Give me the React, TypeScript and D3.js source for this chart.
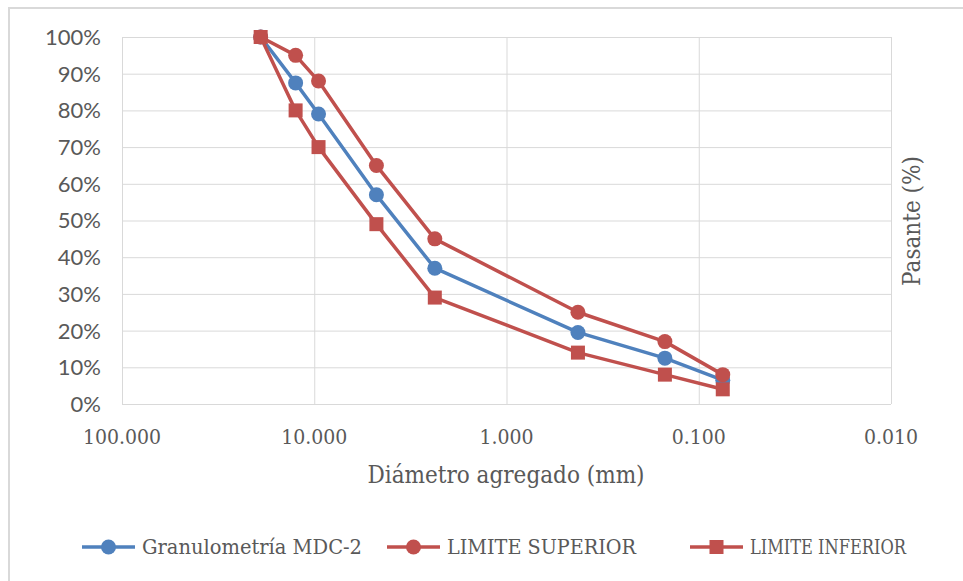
import { useEffect, useRef } from "react";
import * as d3 from "d3";

// tamices (mm) y porcentajes que pasan
const sieveSizes = [19.0, 12.5, 9.5, 4.75, 2.36, 0.425, 0.15, 0.075];
const granulometria = [100, 87.5, 79, 57, 37, 19.5, 12.5, 6.5];
const limiteSuperior = [100, 95, 88, 65, 45, 25, 17, 8];
const limiteInferior = [100, 80, 70, 49, 29, 14, 8, 4];

const xTicks = [100, 10, 1, 0.1, 0.01];
const yTicks = [0, 10, 20, 30, 40, 50, 60, 70, 80, 90, 100];

const seriesNames = ["Granulometría MDC-2", "LIMITE SUPERIOR", "LIMITE INFERIOR"];

const BLUE = "#4f81bd";
const RED = "#c0504d";
const SERIF = "'DejaVu Serif Condensed', 'DejaVu Serif', serif";

export default function App() {
  const ref = useRef(null);

  useEffect(() => {
    const svg = d3.select(ref.current);
    svg.selectAll("*").remove();

    const left = 122, right = 891, top = 37, bottom = 404;

    const x = d3.scaleLog().domain([100, 0.01]).range([left, right]);
    const y = d3.scaleLinear().domain([0, 100]).range([bottom, top]);

    // marco exterior
    svg.append("rect")
      .attr("x", 9).attr("y", 8)
      .attr("width", 980).attr("height", 600)
      .attr("fill", "white")
      .attr("stroke", "#d9d9d9").attr("stroke-width", 2);

    const grid = svg.append("g");
    grid.selectAll(".hg").data(yTicks).join("line")
      .attr("x1", left).attr("x2", right)
      .attr("y1", d => y(d) + 0.5).attr("y2", d => y(d) + 0.5)
      .attr("stroke", "#d9d9d9").attr("stroke-width", 1);
    grid.selectAll(".vg").data(xTicks).join("line")
      .attr("y1", top).attr("y2", bottom)
      .attr("x1", d => x(d) + 0.5).attr("x2", d => x(d) + 0.5)
      .attr("stroke", "#d9d9d9").attr("stroke-width", 1);

    // etiquetas eje y
    svg.append("g").selectAll("text").data(yTicks).join("text")
      .attr("x", 101).attr("y", d => y(d))
      .attr("dy", "0.36em")
      .attr("text-anchor", "end")
      .attr("font-family", "Lato, sans-serif")
      .attr("font-size", 22)
      .attr("fill", "#595959")
      .text(d => d + "%");

    // etiquetas eje x
    svg.append("g").selectAll("text").data(xTicks).join("text")
      .attr("x", d => x(d)).attr("y", 444)
      .attr("text-anchor", "middle")
      .attr("font-family", SERIF)
      .attr("font-size", 21)
      .attr("fill", "#595959")
      .text(d => d3.format(".3f")(d));

    svg.append("text")
      .attr("x", 506).attr("y", 483)
      .attr("text-anchor", "middle")
      .attr("font-family", SERIF)
      .attr("font-size", 24)
      .attr("fill", "#595959")
      .text("Diámetro agregado (mm)");

    svg.append("text")
      .attr("transform", "translate(920, 221) rotate(-90)")
      .attr("text-anchor", "middle")
      .attr("font-family", SERIF)
      .attr("font-size", 24)
      .attr("fill", "#595959")
      .text("Pasante (%)");

    const line = d3.line().x(d => x(d[0])).y(d => y(d[1]));

    const series = [
      { values: granulometria, color: BLUE, shape: "circle" },
      { values: limiteSuperior, color: RED, shape: "circle" },
      { values: limiteInferior, color: RED, shape: "square" },
    ];

    const drawMarker = (g, shape, color, cx, cy) => {
      if (shape === "circle") {
        g.append("circle").attr("cx", cx).attr("cy", cy).attr("r", 7.5).attr("fill", color);
      } else {
        g.append("rect").attr("x", cx - 7).attr("y", cy - 7)
          .attr("width", 14).attr("height", 14).attr("fill", color);
      }
    };

    series.forEach(s => {
      const pts = sieveSizes.map((d, i) => [d, s.values[i]]);
      const g = svg.append("g");
      g.append("path")
        .attr("d", line(pts))
        .attr("fill", "none")
        .attr("stroke", s.color)
        .attr("stroke-width", 3.5)
        .attr("stroke-linejoin", "round");
      pts.forEach(p => drawMarker(g, s.shape, s.color, x(p[0]), y(p[1])));
    });

    // leyenda
    const legendX = [82, 387, 690];
    const legendW = [220, 189, 156];
    const leg = svg.append("g");
    series.forEach((s, i) => {
      const lx = legendX[i];
      leg.append("line")
        .attr("x1", lx).attr("x2", lx + 53)
        .attr("y1", 547).attr("y2", 547)
        .attr("stroke", s.color).attr("stroke-width", 3.5);
      drawMarker(leg, s.shape, s.color, lx + 26.5, 547);
      leg.append("text")
        .attr("x", lx + 60).attr("y", 547)
        .attr("dy", "0.35em")
        .attr("font-family", SERIF)
        .attr("font-size", 21)
        .attr("textLength", legendW[i])
        .attr("lengthAdjust", "spacingAndGlyphs")
        .attr("fill", "#595959")
        .text(seriesNames[i]);
    });
  }, []);

  return (
    <svg
      ref={ref}
      width={963}
      height={581}
      style={{ position: "absolute", left: 0, top: 0 }}
    />
  );
}
